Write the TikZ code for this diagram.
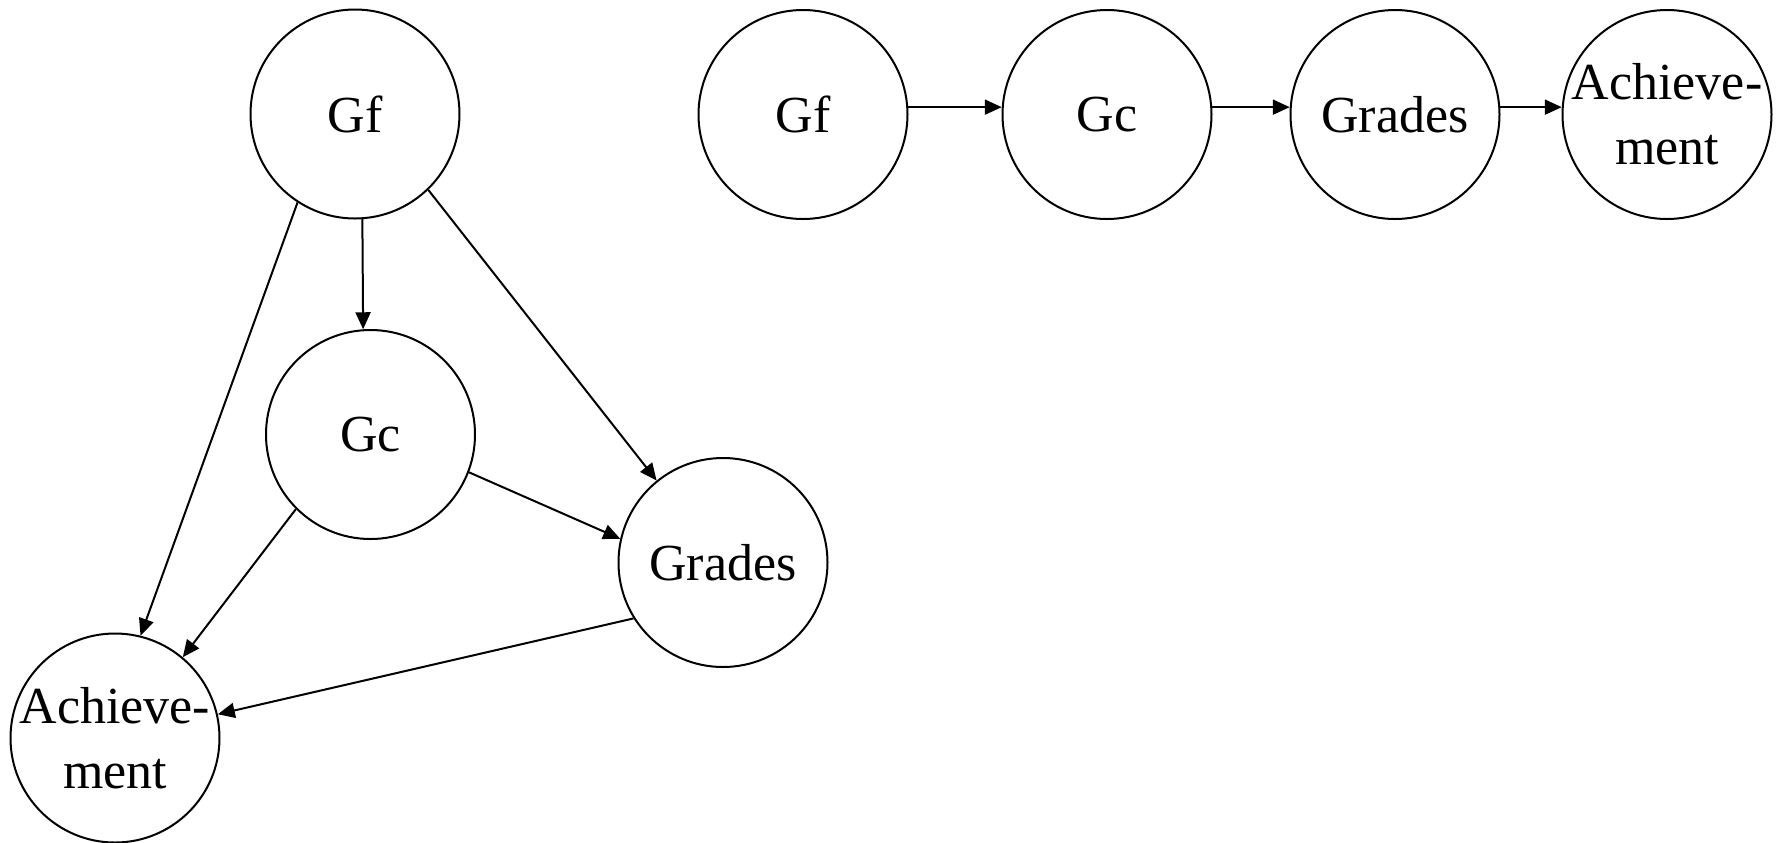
\documentclass[tikz,border=0pt]{standalone}
\usepackage{fontspec}
\setmainfont{Liberation Serif}
\usetikzlibrary{arrows.meta}
\tikzset{
  circ/.style={circle, draw, line width=1pt, minimum size=104.5pt, inner sep=0pt,
    font=\fontsize{26}{32.5}\selectfont, align=center},
  lab/.style={font=\fontsize{26}{32.5}\selectfont, align=center, inner sep=0pt},
  arr/.style={line width=1pt, -{Triangle[length=8.5pt,width=7.5pt]}}
}
\begin{document}
\begin{tikzpicture}[x=0.5pt,y=-0.5pt]
\useasboundingbox (0,0) rectangle (1779,842);
% left diagram
\node[circ] (gf) at (355,114) {Gf};
\node[circ] (gc) at (370.5,434.5) {Gc};
\node[circ] (gr) at (723,562.5) {Grades};
\node[circ, label={[lab]center:Achieve-\\ment}] (ach) at (115,738) {};
\draw[arr] (gf.-86) -- (gc.94.5);
\draw[arr] (gf.-123) -- (ach.76);
\draw[arr] (gf.-46) -- (gr.129);
\draw[arr] (gc.-21) -- (gr.167);
\draw[arr] (gc.-135) -- (ach.50);
\draw[arr] (gr.-148) -- (ach.13);
% right diagram
\node[circ] (gfb) at (803,114.5) {Gf};
\node[circ] (gcb) at (1107,114.5) {Gc};
\node[circ] (grb) at (1395,114.5) {Grades};
\node[circ, label={[lab]center:Achieve-\\ment}] (achb) at (1667,114.5) {};
\draw[arr] (gfb.4) -- (gcb.176);
\draw[arr] (gcb.4) -- (grb.176);
\draw[arr] (grb.4) -- (achb.176);
\end{tikzpicture}
\end{document}
